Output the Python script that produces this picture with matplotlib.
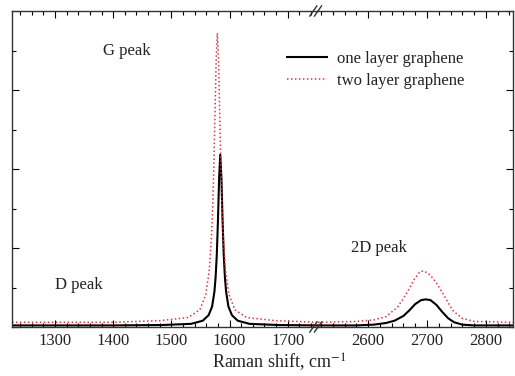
import matplotlib
matplotlib.use("Agg")
import matplotlib.pyplot as plt
from matplotlib.ticker import MultipleLocator

plt.rcParams['font.family'] = ['Liberation Serif', 'DejaVu Serif']
plt.rcParams['mathtext.fontset'] = 'stix'

# ============================================
# DATA
# ============================================
# low-wavenumber segment (D and G region)
one_low_x = [1226, 1400, 1484, 1534, 1554, 1564, 1570, 1574, 1576, 1578, 1580, 1582,
             1584, 1586, 1588, 1590, 1592, 1594, 1598, 1604, 1614, 1634, 1684, 1752]
one_low_y = [0.02, 0.02, 0.025, 0.04, 0.08, 0.15, 0.26, 0.45, 0.63, 0.91, 1.34, 1.88,
             2.18, 1.88, 1.34, 0.91, 0.63, 0.45, 0.26, 0.15, 0.08, 0.04, 0.025, 0.02]

two_low_x = [1226, 1400, 1479, 1529, 1549, 1559, 1565, 1569, 1571, 1573, 1575, 1577,
             1579, 1581, 1583, 1585, 1587, 1589, 1593, 1599, 1609, 1629, 1679, 1752]
two_low_y = [0.06, 0.06, 0.08, 0.12, 0.22, 0.41, 0.71, 1.15, 1.52, 2.04, 2.71, 3.40,
             3.72, 3.40, 2.71, 2.04, 1.52, 1.15, 0.71, 0.41, 0.22, 0.12, 0.08, 0.06]

# high-wavenumber segment (2D region)
one_high_x = [2515, 2580, 2610, 2630, 2645, 2660, 2670, 2680, 2690, 2698, 2706, 2716,
              2726, 2736, 2746, 2760, 2780, 2846]
one_high_y = [0.02, 0.02, 0.03, 0.05, 0.08, 0.14, 0.21, 0.29, 0.34, 0.35, 0.34, 0.28,
              0.19, 0.11, 0.06, 0.03, 0.02, 0.02]

two_high_x = [2515, 2580, 2610, 2630, 2650, 2665, 2678, 2688, 2695, 2705, 2715, 2725,
              2735, 2745, 2760, 2780, 2846]
two_high_y = [0.06, 0.07, 0.09, 0.13, 0.25, 0.42, 0.60, 0.70, 0.71, 0.66, 0.57, 0.45,
              0.32, 0.20, 0.11, 0.07, 0.06]

low_xlim = (1226, 1752)
high_xlim = (2515, 2846)
low_ticks = [1300, 1400, 1500, 1600, 1700]
high_ticks = [2600, 2700, 2800]

# annotations: (text, x, y)
peak_labels_low = [("G peak", 1424, 3.49), ("D peak", 1340, 0.53)]
peak_labels_high = [("2D peak", 2618, 1.00)]

TXT = '#222222'
RED = '#e8303f'

# ============================================
# FIGURE
# ============================================
fig = plt.figure(figsize=(5.15, 3.76), dpi=100)
y0, y1 = 1 - 327 / 376, 1 - 11 / 376
xa, xb, xc = 12 / 515, 318 / 515, 513 / 515
ax1 = fig.add_axes([xa, y0, xb - xa, y1 - y0])
ax2 = fig.add_axes([xb, y0, xc - xb, y1 - y0])

ax1.plot(one_low_x, one_low_y, color='black', lw=1.5, label='one layer graphene')
ax1.plot(two_low_x, two_low_y, color=RED, lw=1.1, ls=(0, (1, 1.6)), label='two layer graphene')
ax2.plot(one_high_x, one_high_y, color='black', lw=1.5)
ax2.plot(two_high_x, two_high_y, color=RED, lw=1.1, ls=(0, (1, 1.6)))

ax1.set_xlim(*low_xlim)
ax2.set_xlim(*high_xlim)
for ax in (ax1, ax2):
    ax.set_ylim(0, 4)
    ax.yaxis.set_major_locator(MultipleLocator(1))
    ax.yaxis.set_minor_locator(MultipleLocator(0.5))
    ax.xaxis.set_minor_locator(MultipleLocator(20))
    ax.tick_params(axis='both', which='both', direction='in', top=True,
                   labelsize=12, labelcolor=TXT, pad=4, width=0.8)
    ax.tick_params(which='major', length=5)
    ax.tick_params(which='minor', length=3)
    ax.set_yticklabels([])
    for s in ax.spines.values():
        s.set_linewidth(1.0)
        s.set_color('#333333')

ax1.set_xticks(low_ticks)
ax2.set_xticks(high_ticks)
ax1.spines['right'].set_visible(False)
ax2.spines['left'].set_visible(False)
ax1.tick_params(axis='y', which='both', right=False)
ax2.tick_params(axis='y', which='both', left=False, right=True)
ax2.set_yticklabels([])

# break marks "//" on top and bottom axis
for yy in (0, 1):
    for dx in (-0.024, 0.0):
        ax2.plot([dx - 0.018, dx + 0.018], [yy - 0.016, yy + 0.016],
                 transform=ax2.transAxes, color='#333333', lw=1.0, clip_on=False)

for txt, x, y in peak_labels_low:
    ax1.text(x, y, txt, ha='center', va='center', fontsize=12, color=TXT)
for txt, x, y in peak_labels_high:
    ax2.text(x, y, txt, ha='center', va='center', fontsize=12, color=TXT)

fig.text(279 / 515, 1 - 362 / 376, 'Raman shift, cm$^{-1}$', ha='center', va='center',
         fontsize=13, color=TXT)

fig.legend(loc='upper left', bbox_to_anchor=(287 / 515, 1 - 51 / 376), frameon=False,
           fontsize=12, handlelength=2.4, handletextpad=0.6, labelspacing=0.35,
           labelcolor=TXT, borderaxespad=0, borderpad=0)

fig.savefig('out.png', dpi=100)
